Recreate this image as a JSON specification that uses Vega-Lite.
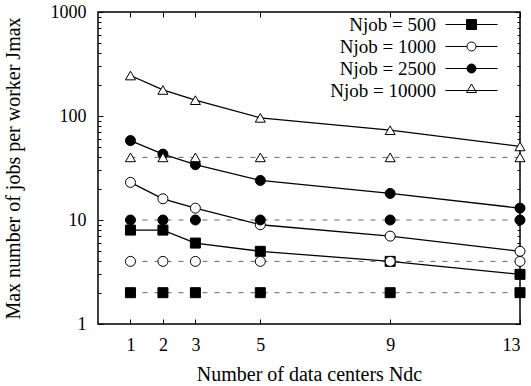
{
  "$schema": "https://vega.github.io/schema/vega-lite/v6.json",
  "width": 422,
  "height": 312,
  "autosize": "none",
  "padding": {"left": 98, "top": 12, "right": 11, "bottom": 62},
  "background": "white",
  "config": {
    "font": "Liberation Serif",
    "view": {"stroke": "black", "strokeWidth": 1.5},
    "axis": {
      "labelFont": "Liberation Serif",
      "titleFont": "Liberation Serif",
      "labelFontSize": 18,
      "titleFontSize": 20,
      "titleFontWeight": "normal",
      "labelColor": "black",
      "titleColor": "black",
      "tickColor": "black",
      "tickWidth": 1,
      "grid": false,
      "domain": false
    },
    "legend": {
      "labelFont": "Liberation Serif",
      "labelFontSize": 19,
      "labelColor": "black"
    }
  },
  "data": {
    "values": [
      {"njob": "Njob = 500", "kind": "max", "ndc": 1, "jmax": 8},
      {"njob": "Njob = 500", "kind": "max", "ndc": 2, "jmax": 8},
      {"njob": "Njob = 500", "kind": "max", "ndc": 3, "jmax": 6},
      {"njob": "Njob = 500", "kind": "max", "ndc": 5, "jmax": 5},
      {"njob": "Njob = 500", "kind": "max", "ndc": 9, "jmax": 4},
      {"njob": "Njob = 500", "kind": "max", "ndc": 13, "jmax": 3},
      {"njob": "Njob = 1000", "kind": "max", "ndc": 1, "jmax": 23},
      {"njob": "Njob = 1000", "kind": "max", "ndc": 2, "jmax": 16},
      {"njob": "Njob = 1000", "kind": "max", "ndc": 3, "jmax": 13},
      {"njob": "Njob = 1000", "kind": "max", "ndc": 5, "jmax": 9},
      {"njob": "Njob = 1000", "kind": "max", "ndc": 9, "jmax": 7},
      {"njob": "Njob = 1000", "kind": "max", "ndc": 13, "jmax": 5},
      {"njob": "Njob = 2500", "kind": "max", "ndc": 1, "jmax": 58},
      {"njob": "Njob = 2500", "kind": "max", "ndc": 2, "jmax": 43},
      {"njob": "Njob = 2500", "kind": "max", "ndc": 3, "jmax": 34},
      {"njob": "Njob = 2500", "kind": "max", "ndc": 5, "jmax": 24},
      {"njob": "Njob = 2500", "kind": "max", "ndc": 9, "jmax": 18},
      {"njob": "Njob = 2500", "kind": "max", "ndc": 13, "jmax": 13},
      {"njob": "Njob = 10000", "kind": "max", "ndc": 1, "jmax": 245},
      {"njob": "Njob = 10000", "kind": "max", "ndc": 2, "jmax": 178},
      {"njob": "Njob = 10000", "kind": "max", "ndc": 3, "jmax": 142},
      {"njob": "Njob = 10000", "kind": "max", "ndc": 5, "jmax": 96},
      {"njob": "Njob = 10000", "kind": "max", "ndc": 9, "jmax": 73},
      {"njob": "Njob = 10000", "kind": "max", "ndc": 13, "jmax": 51},
      {"njob": "Njob = 500", "kind": "bound", "ndc": 1, "jmax": 2},
      {"njob": "Njob = 500", "kind": "bound", "ndc": 2, "jmax": 2},
      {"njob": "Njob = 500", "kind": "bound", "ndc": 3, "jmax": 2},
      {"njob": "Njob = 500", "kind": "bound", "ndc": 5, "jmax": 2},
      {"njob": "Njob = 500", "kind": "bound", "ndc": 9, "jmax": 2},
      {"njob": "Njob = 500", "kind": "bound", "ndc": 13, "jmax": 2},
      {"njob": "Njob = 1000", "kind": "bound", "ndc": 1, "jmax": 4},
      {"njob": "Njob = 1000", "kind": "bound", "ndc": 2, "jmax": 4},
      {"njob": "Njob = 1000", "kind": "bound", "ndc": 3, "jmax": 4},
      {"njob": "Njob = 1000", "kind": "bound", "ndc": 5, "jmax": 4},
      {"njob": "Njob = 1000", "kind": "bound", "ndc": 9, "jmax": 4},
      {"njob": "Njob = 1000", "kind": "bound", "ndc": 13, "jmax": 4},
      {"njob": "Njob = 2500", "kind": "bound", "ndc": 1, "jmax": 10},
      {"njob": "Njob = 2500", "kind": "bound", "ndc": 2, "jmax": 10},
      {"njob": "Njob = 2500", "kind": "bound", "ndc": 3, "jmax": 10},
      {"njob": "Njob = 2500", "kind": "bound", "ndc": 5, "jmax": 10},
      {"njob": "Njob = 2500", "kind": "bound", "ndc": 9, "jmax": 10},
      {"njob": "Njob = 2500", "kind": "bound", "ndc": 13, "jmax": 10},
      {"njob": "Njob = 10000", "kind": "bound", "ndc": 1, "jmax": 40},
      {"njob": "Njob = 10000", "kind": "bound", "ndc": 2, "jmax": 40},
      {"njob": "Njob = 10000", "kind": "bound", "ndc": 3, "jmax": 40},
      {"njob": "Njob = 10000", "kind": "bound", "ndc": 5, "jmax": 40},
      {"njob": "Njob = 10000", "kind": "bound", "ndc": 9, "jmax": 40},
      {"njob": "Njob = 10000", "kind": "bound", "ndc": 13, "jmax": 40}
    ]
  },
  "layer": [
    {
      "transform": [{"filter": "datum.kind == 'bound'"}],
      "mark": {"type": "line", "color": "#666666", "strokeWidth": 1, "strokeDash": [5, 7]},
      "encoding": {
        "x": {
          "field": "ndc", "type": "quantitative",
          "scale": {"domain": [0, 13], "nice": false, "zero": false},
          "axis": {"orient": "bottom", "values": [1, 2, 3, 5, 9, 13], "ticks": false, "labelPadding": 12, "title": "Number of data centers Ndc", "titlePadding": 10}
        },
        "y": {
          "field": "jmax", "type": "quantitative",
          "scale": {"type": "log", "domain": [1, 1000], "nice": false},
          "axis": {"orient": "left", "values": [1, 10, 100, 1000], "format": "d", "ticks": false, "labelPadding": 12, "title": "Max number of jobs per worker Jmax", "titlePadding": 27}
        },
        "detail": {"field": "njob"}
      }
    },
    {
      "transform": [{"filter": "datum.kind == 'max'"}],
      "mark": {"type": "line", "color": "black", "strokeWidth": 1.3},
      "encoding": {
        "x": {
          "field": "ndc", "type": "quantitative",
          "axis": {"orient": "bottom", "values": [1, 2, 3, 5, 9, 13], "labels": false, "ticks": true, "tickSize": -5, "title": null}
        },
        "y": {
          "field": "jmax", "type": "quantitative",
          "axis": {
            "orient": "left",
            "values": [1, 2, 3, 4, 5, 6, 7, 8, 9, 10, 20, 30, 40, 50, 60, 70, 80, 90, 100, 200, 300, 400, 500, 600, 700, 800, 900, 1000],
            "labels": false, "ticks": true, "title": null,
            "tickSize": {"condition": {"test": "datum.value == 1 || datum.value == 10 || datum.value == 100 || datum.value == 1000", "value": -5}, "value": -3}
          }
        },
        "detail": {"field": "njob"}
      }
    },
    {
      "mark": {"type": "point", "filled": true, "stroke": "black", "strokeWidth": 1, "size": 100, "opacity": 1},
      "encoding": {
        "x": {
          "field": "ndc", "type": "quantitative",
          "axis": {"orient": "top", "values": [1, 2, 3, 5, 9, 13], "labels": false, "ticks": true, "tickSize": -5, "title": null}
        },
        "y": {
          "field": "jmax", "type": "quantitative",
          "axis": {
            "orient": "right",
            "values": [1, 2, 3, 4, 5, 6, 7, 8, 9, 10, 20, 30, 40, 50, 60, 70, 80, 90, 100, 200, 300, 400, 500, 600, 700, 800, 900, 1000],
            "labels": false, "ticks": true, "title": null,
            "tickSize": {"condition": {"test": "datum.value == 1 || datum.value == 10 || datum.value == 100 || datum.value == 1000", "value": -5}, "value": -3}
          }
        },
        "shape": {
          "field": "njob", "type": "nominal",
          "scale": {"domain": ["Njob = 500", "Njob = 1000", "Njob = 2500", "Njob = 10000"], "range": ["square", "circle", "circle", "triangle-up"]},
          "legend": null
        },
        "fill": {
          "field": "njob", "type": "nominal",
          "scale": {"domain": ["Njob = 500", "Njob = 1000", "Njob = 2500", "Njob = 10000"], "range": ["black", "white", "black", "white"]},
          "legend": null
        }
      }
    },
    {
      "transform": [{"filter": "datum.ndc > 100"}],
      "mark": {"type": "point", "filled": true, "strokeWidth": 1, "opacity": 1},
      "encoding": {
        "shape": {
          "field": "njob", "type": "nominal",
          "scale": {
            "domain": ["Njob = 500", "Njob = 1000", "Njob = 2500", "Njob = 10000"],
            "range": [
              "M-2.6,0H2.6M-0.5,-0.5H0.5V0.5H-0.5Z",
              "M-2.6,0H-0.45M0.45,0H2.6M-0.45,0A0.45,0.45,0,1,0,0.45,0A0.45,0.45,0,1,0,-0.45,0Z",
              "M-2.6,0H2.6M-0.45,0A0.45,0.45,0,1,0,0.45,0A0.45,0.45,0,1,0,-0.45,0Z",
              "M-2.6,0H2.6M0,-0.65L0.5,0.2H-0.5Z"
            ]
          },
          "legend": {
            "title": null, "orient": "none", "legendX": 363, "legendY": 2,
            "symbolSize": 400, "symbolStrokeWidth": 1, "rowPadding": 1,
            "labelAlign": "right", "labelOffset": -46, "padding": 0
          }
        },
        "fill": {
          "field": "njob", "type": "nominal",
          "scale": {"domain": ["Njob = 500", "Njob = 1000", "Njob = 2500", "Njob = 10000"], "range": ["black", "white", "black", "white"]},
          "legend": {
            "title": null, "orient": "none", "legendX": 363, "legendY": 2,
            "symbolSize": 400, "symbolStrokeWidth": 1, "rowPadding": 1,
            "labelAlign": "right", "labelOffset": -46, "padding": 0
          }
        },
        "stroke": {
          "field": "njob", "type": "nominal",
          "scale": {"domain": ["Njob = 500", "Njob = 1000", "Njob = 2500", "Njob = 10000"], "range": ["black", "black", "black", "black"]},
          "legend": {
            "title": null, "orient": "none", "legendX": 363, "legendY": 2,
            "symbolSize": 400, "symbolStrokeWidth": 1, "rowPadding": 1,
            "labelAlign": "right", "labelOffset": -46, "padding": 0
          }
        }
      }
    }
  ],
  "resolve": {
    "axis": {"x": "independent", "y": "independent"},
    "scale": {"shape": "independent", "fill": "independent", "stroke": "independent"}
  }
}
